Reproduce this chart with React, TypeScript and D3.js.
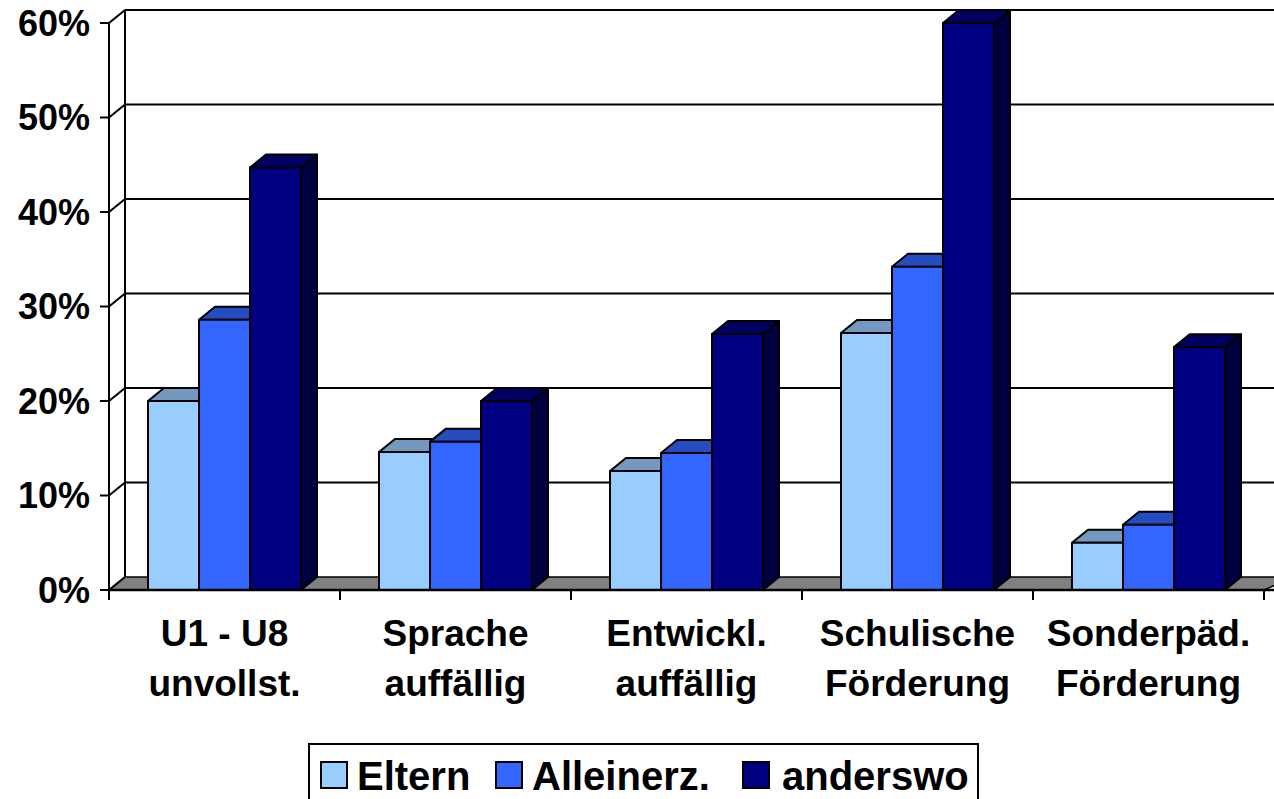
import React from "react";
import * as d3 from "d3";

const categories = [
  ["U1 - U8", "unvollst."],
  ["Sprache", "auffällig"],
  ["Entwickl.", "auffällig"],
  ["Schulische", "Förderung"],
  ["Sonderpäd.", "Förderung"],
];
const seriesNames = ["Eltern", "Alleinerz.", "anderswo"];
const eltern = [0.2, 0.146, 0.126, 0.272, 0.05];
const alleinerz = [0.286, 0.157, 0.145, 0.342, 0.069];
const anderswo = [0.447, 0.2, 0.271, 0.6, 0.257];
const yTicks = [0, 0.1, 0.2, 0.3, 0.4, 0.5, 0.6];

const frontColors = ["#99CCFF", "#3366FF", "#000080"];
const topColors = ["#7399BF", "#264DBF", "#000060"];
const sideColors = ["#5C7A99", "#1F3D99", "#000040"];

const W = 1274;
const H = 799;
const X0 = 109;
const X1 = 1264;
const Y0 = 590;
const Y60 = 23;
const DX = 16;
const DY = -13;
const FONT = "'Liberation Sans', Arial, sans-serif";

export default function App() {
  const values = [eltern, alleinerz, anderswo];
  const y = d3.scaleLinear().domain([0, 0.6]).range([Y0, Y60]);
  const keys = categories.map((c) => c.join(" "));
  const x = d3.scaleBand<string>().domain(keys).range([X0, X1]).padding(0);
  const step = x.bandwidth();
  const xs = d3
    .scaleBand<number>()
    .domain([0, 1, 2])
    .range([39, step - 39])
    .padding(0);
  const bw = xs.bandwidth();

  const pts = (a: number[][]) => a.map((p) => p.join(",")).join(" ");

  const bars: React.ReactNode[] = [];
  keys.forEach((k, ci) => {
    [0, 1, 2].forEach((si) => {
      const v = values[si][ci];
      const left = (x(k) as number) + (xs(si) as number);
      const right = left + bw;
      const top = y(v);
      const bottom = Y0;
      bars.push(
        <g key={`${ci}-${si}`} stroke="#000" strokeWidth={2} strokeLinejoin="round">
          <polygon
            points={pts([
              [right, bottom],
              [right + DX, bottom + DY],
              [right + DX, top + DY],
              [right, top],
            ])}
            fill={sideColors[si]}
          />
          <polygon
            points={pts([
              [left, top],
              [left + DX, top + DY],
              [right + DX, top + DY],
              [right, top],
            ])}
            fill={topColors[si]}
          />
          <rect x={left} y={top} width={bw} height={bottom - top} fill={frontColors[si]} />
        </g>
      );
    });
  });

  const legendItems = [
    { x: 321, tx: 357 },
    { x: 496, tx: 532 },
    { x: 743, tx: 782 },
  ];

  return (
    <svg
      width={W}
      height={H}
      style={{ position: "absolute", left: 0, top: 0, background: "#fff" }}
      fontFamily={FONT}
    >
      {/* floor */}
      <polygon
        points={pts([
          [X0, Y0],
          [X0 + DX, Y0 + DY],
          [W + 20, Y0 + DY],
          [X1, Y0],
        ])}
        fill="#808080"
        stroke="#000"
        strokeWidth={1.5}
      />
      {/* back wall left edge */}
      <line x1={X0 + DX} y1={Y0 + DY} x2={X0 + DX} y2={Y60 + DY} stroke="#000" strokeWidth={2} />
      {/* gridlines */}
      {yTicks.map((t) => (
        <g key={t} stroke="#000" strokeWidth={2}>
          {t > 0 && (
            <line x1={X0 + DX} y1={y(t) + DY} x2={W} y2={y(t) + DY} />
          )}
          <line x1={X0} y1={y(t)} x2={X0 + DX} y2={y(t) + DY} />
          <line x1={X0 - 9} y1={y(t)} x2={X0} y2={y(t)} />
        </g>
      ))}
      {/* value axis */}
      <line x1={X0} y1={Y60} x2={X0} y2={Y0} stroke="#000" strokeWidth={2} />
      {yTicks.map((t) => (
        <text
          key={t}
          x={90}
          y={y(t)}
          dy="0.36em"
          textAnchor="end"
          fontSize={36}
          fontWeight="bold"
          fill="#000"
        >
          {d3.format(".0%")(t)}
        </text>
      ))}
      {bars}
      {/* category axis */}
      <line x1={X0} y1={Y0} x2={W} y2={Y0} stroke="#000" strokeWidth={2.5} />
      {d3.range(keys.length + 1).map((i) => (
        <line
          key={i}
          x1={X0 + i * step}
          y1={Y0}
          x2={X0 + i * step}
          y2={Y0 + 10}
          stroke="#000"
          strokeWidth={2}
        />
      ))}
      {categories.map((c, i) => (
        <text
          key={i}
          x={(x(keys[i]) as number) + step / 2}
          textAnchor="middle"
          fontSize={37}
          fontWeight="bold"
          fill="#000"
        >
          <tspan x={(x(keys[i]) as number) + step / 2} y={646}>
            {c[0]}
          </tspan>
          <tspan x={(x(keys[i]) as number) + step / 2} y={696}>
            {c[1]}
          </tspan>
        </text>
      ))}
      {/* legend */}
      <rect x={309} y={744} width={669} height={70} fill="#fff" stroke="#000" strokeWidth={2} />
      {seriesNames.map((s, i) => (
        <g key={s}>
          <rect
            x={legendItems[i].x}
            y={762}
            width={26}
            height={26}
            fill={frontColors[i]}
            stroke="#000"
            strokeWidth={2}
          />
          <text x={legendItems[i].tx} y={790} fontSize={40} fontWeight="bold" fill="#000">
            {s}
          </text>
        </g>
      ))}
    </svg>
  );
}
